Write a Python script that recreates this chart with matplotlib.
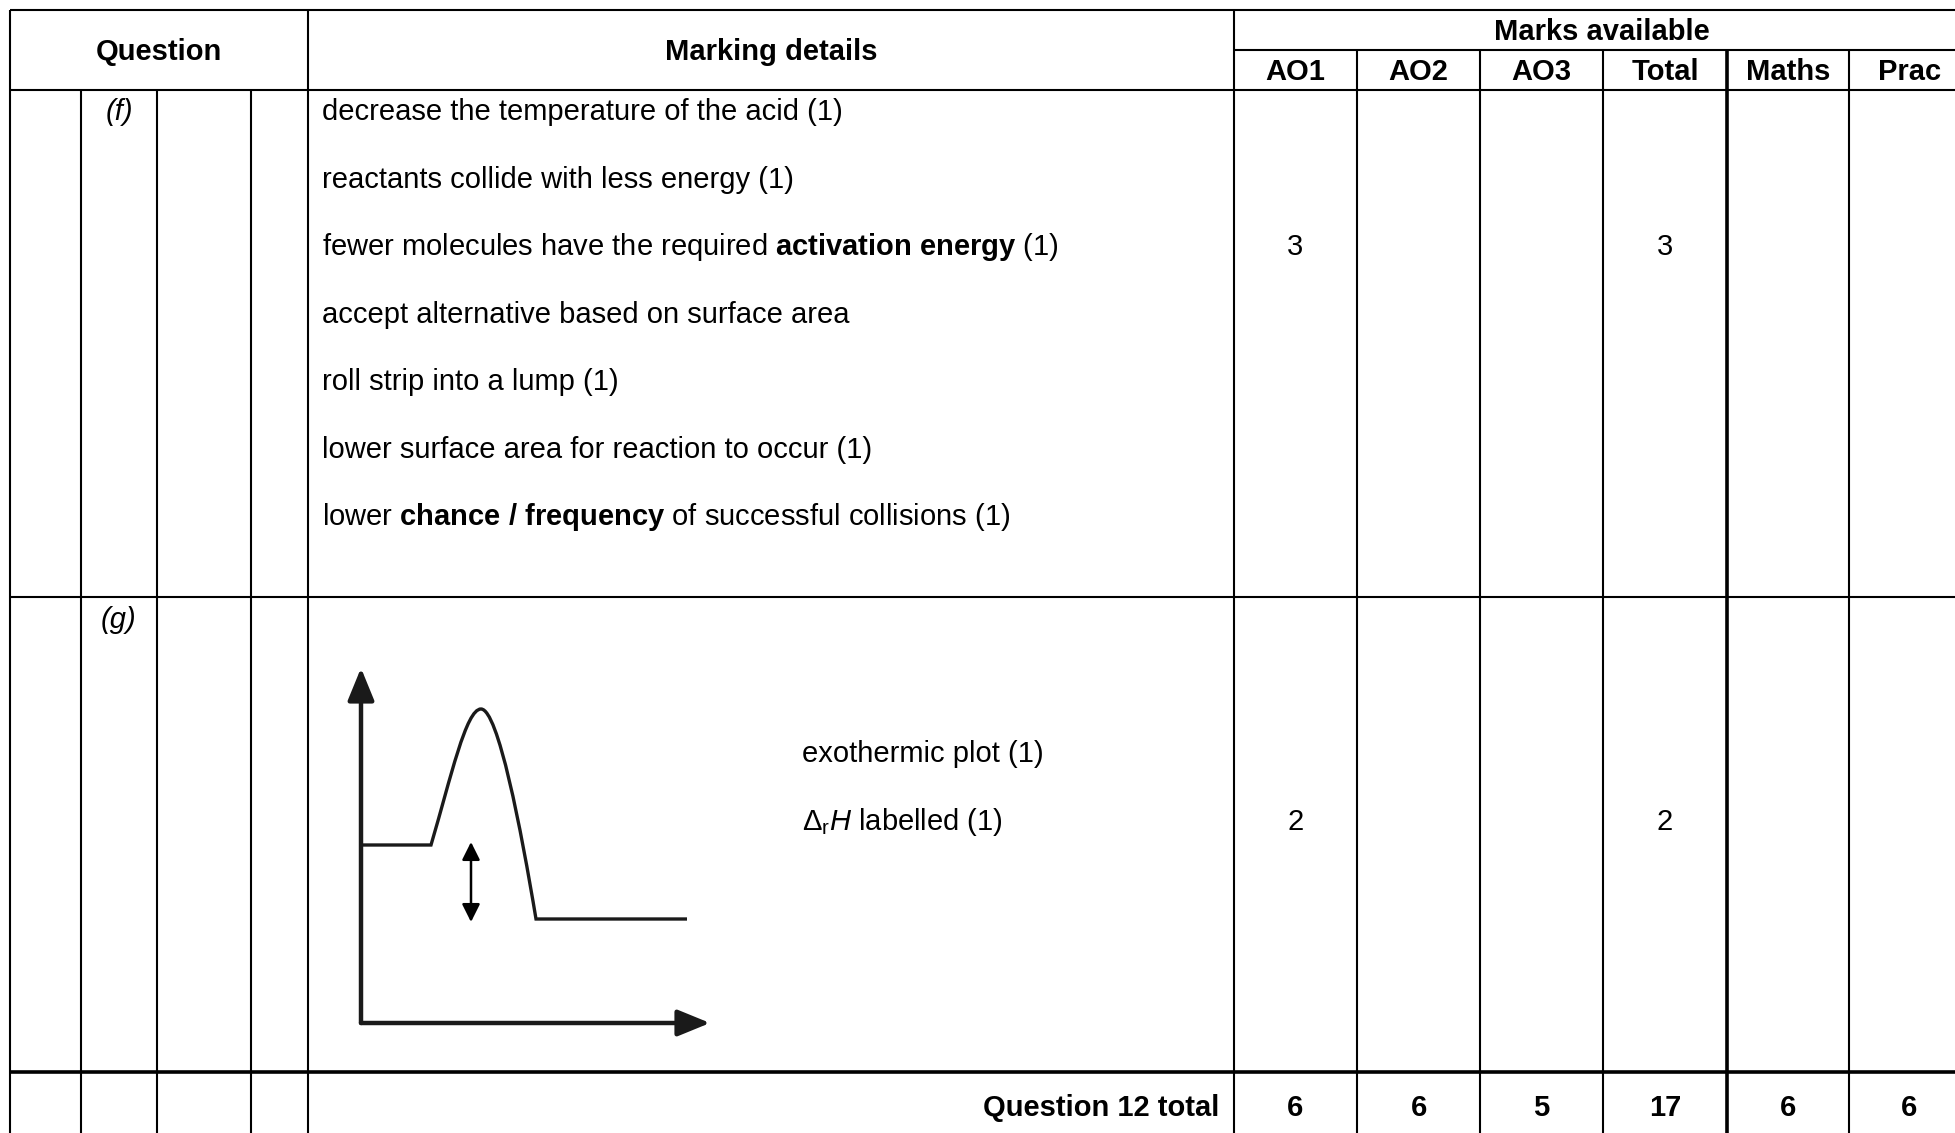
"""Mark scheme table for question 12 (f) and (g), redrawn with matplotlib."""

import matplotlib
matplotlib.use("Agg")
import matplotlib.pyplot as plt
from matplotlib.path import Path
from matplotlib.patches import PathPatch

plt.rcParams['font.family'] = ['Liberation Sans', 'DejaVu Sans']
plt.rcParams['mathtext.fontset'] = 'custom'
plt.rcParams['mathtext.rm'] = 'Liberation Sans'
plt.rcParams['mathtext.it'] = 'Liberation Sans:italic'
plt.rcParams['mathtext.bf'] = 'Liberation Sans:bold'

# ---- table content ----
mark_columns = ["AO1", "AO2", "AO3", "Total", "Maths", "Prac"]
part_labels = ["(f)", "(g)"]
part_f_lines = [
    "decrease the temperature of the acid (1)",
    "reactants collide with less energy (1)",
    r"fewer molecules have the required $\mathbf{activation\ energy}$ (1)",
    "accept alternative based on surface area",
    "roll strip into a lump (1)",
    "lower surface area for reaction to occur (1)",
    r"lower $\mathbf{chance\ /\ frequency}$ of successful collisions (1)",
]
part_g_lines = ["exothermic plot (1)", r"$\Delta_\mathrm{r}H$ labelled (1)"]
ao1_marks = [3, 2]
total_marks = [3, 2]
question_label = "Question 12 total"
question_totals = [6, 6, 5, 17, 6, 6]

# energy profile sketch (diagram units)
reactant_level = 178
product_level = 104
peak = (120, 314)
rise_start = 70
fall_end = 175
profile_end = 326
dh_arrow = (110, 181, 101)   # x, top, bottom

# ---- layout (pixels, y downwards) ----
W, H = 1956, 1133
col_x = [10, 81, 157, 251, 308, 1234, 1357, 1480, 1603, 1727, 1849, 1970]
y_top, y_sub, y_head = 10, 50, 90
y_f_end, y_g_end = 597, 1072
FS = 21
LW = 1.5
DY = 2.5   # small nudge so text sits like the original

fig = plt.figure(figsize=(W / 100, H / 100), dpi=100)
ax = fig.add_axes([0, 0, 1, 1])
ax.set_xlim(0, W)
ax.set_ylim(H, 0)
ax.axis('off')


def hline(y, x0, x1, lw=LW):
    ax.plot([x0, x1], [y, y], color='black', lw=lw, solid_capstyle='butt')


def vline(x, y0, y1, lw=LW):
    ax.plot([x, x], [y0, y1], color='black', lw=lw, solid_capstyle='butt')


# horizontal rules
hline(y_top, col_x[0], W)
hline(y_sub, col_x[5], W)
hline(y_head, col_x[0], W)
hline(y_f_end, col_x[0], W)
hline(y_g_end, col_x[0], W, lw=2.6)

# vertical rules
vline(col_x[0], y_top, H)
for x in col_x[1:4]:
    vline(x, y_head, H)
vline(col_x[4], y_top, H)
vline(col_x[5], y_top, H)
for i, x in enumerate(col_x[6:11]):
    vline(x, y_sub, H, lw=2.6 if i == 3 else LW)

# headers
ax.text((col_x[0] + col_x[4]) / 2, 49 + DY, "Question", ha='center', va='center',
        fontsize=FS, fontweight='bold')
ax.text((col_x[4] + col_x[5]) / 2, 50 + DY, "Marking details", ha='center', va='center',
        fontsize=FS, fontweight='bold')
ax.text((col_x[5] + col_x[11]) / 2, 29 + DY, "Marks available", ha='center', va='center',
        fontsize=FS, fontweight='bold')
col_centers = [(col_x[5 + i] + col_x[6 + i]) / 2 for i in range(len(mark_columns))]
for cx, name in zip(col_centers, mark_columns):
    ax.text(cx, 70 + DY, name, ha='center', va='center', fontsize=FS, fontweight='bold')

# part (f)
part_x = (col_x[1] + col_x[2]) / 2
ax.text(part_x, 110 + DY, part_labels[0], ha='center', va='center', fontsize=FS, style='italic')
for i, line in enumerate(part_f_lines):
    ax.text(322, 110 + DY + i * 67.4, line, ha='left', va='center', fontsize=FS)
ax.text(col_centers[0], 244.5 + DY, str(ao1_marks[0]), ha='center', va='center', fontsize=FS)
ax.text(col_centers[3], 244.5 + DY, str(total_marks[0]), ha='center', va='center', fontsize=FS)

# part (g)
ax.text(part_x, 617 + DY, part_labels[1], ha='center', va='center', fontsize=FS, style='italic')
for i, line in enumerate(part_g_lines):
    ax.text(802, 751 + DY + i * 68.5, line, ha='left', va='center', fontsize=FS)
ax.text(col_centers[0], 819.5 + DY, str(ao1_marks[1]), ha='center', va='center', fontsize=FS)
ax.text(col_centers[3], 819.5 + DY, str(total_marks[1]), ha='center', va='center', fontsize=FS)

# totals row
ax.text(1219, 1105 + DY, question_label, ha='right', va='center', fontsize=FS, fontweight='bold')
for cx, v in zip(col_centers, question_totals):
    ax.text(cx, 1105 + DY, str(v), ha='center', va='center', fontsize=FS, fontweight='bold')

# energy profile sketch in its own axes
dx0, dy0, dw, dh = 361, 1023, 349, 355
dax = fig.add_axes([dx0 / W, (H - dy0) / H, dw / W, dh / H])
dax.set_xlim(0, dw)
dax.set_ylim(0, dh)
dax.axis('off')

ax_kw = dict(arrowstyle='-|>,head_length=1.1,head_width=0.45', color='#1a1a1a',
             lw=3.2, mutation_scale=18, shrinkA=0, shrinkB=0)
dax.annotate('', xy=(0, dh), xytext=(0, 0), arrowprops=ax_kw, annotation_clip=False)
dax.annotate('', xy=(dw, 0), xytext=(0, 0), arrowprops=ax_kw, annotation_clip=False)

px, py = peak
verts = [
    (0, reactant_level), (rise_start, reactant_level),
    (rise_start + 20, reactant_level + 68), (px - 15, py), (px, py),
    (px + 17, py), (fall_end - 15, product_level + 90), (fall_end, product_level),
    (profile_end, product_level),
]
codes = [Path.MOVETO, Path.LINETO,
         Path.CURVE4, Path.CURVE4, Path.CURVE4,
         Path.CURVE4, Path.CURVE4, Path.CURVE4,
         Path.LINETO]
dax.add_patch(PathPatch(Path(verts, codes), facecolor='none', edgecolor='#1a1a1a',
                        lw=2.4, clip_on=False))

ax_x, ax_top, ax_bot = dh_arrow
dax.annotate('', xy=(ax_x, ax_top), xytext=(ax_x, ax_bot),
             arrowprops=dict(arrowstyle='<|-|>,head_length=0.9,head_width=0.45',
                             color='black', lw=1.8, mutation_scale=12,
                             shrinkA=0, shrinkB=0))

fig.savefig("out.png", dpi=100)
